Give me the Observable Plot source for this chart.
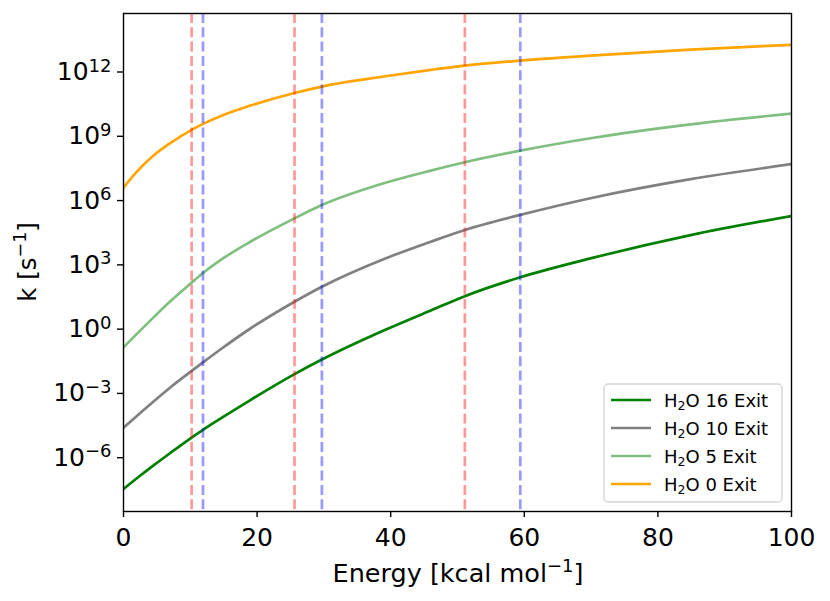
<!DOCTYPE html>
<html><head><meta charset="utf-8">
<script src="https://cdn.jsdelivr.net/npm/d3@7"></script>
<script src="https://cdn.jsdelivr.net/npm/@observablehq/plot@0.6"></script>
<style>body{margin:0;background:#fff}</style>
</head><body><div id="chart"></div>
<script>
// ---- data ----
const energy     = [0, 2, 4.5, 7, 10.2, 11.9, 14.5, 19, 25.6, 29.7, 39.2, 46, 51.1, 59.4, 69.9, 84.9, 100];
// log10(k) values for each exit channel
const logK_h2o16 = [-7.46, -6.96, -6.36, -5.78, -5.06, -4.70, -4.18, -3.31, -2.10, -1.42, -0.03, 0.87, 1.54, 2.42, 3.30, 4.39, 5.28];
const logK_h2o10 = [-4.6, -4.05, -3.375, -2.72, -1.95, -1.55, -0.95, 0.03, 1.28, 1.98, 3.30, 4.08, 4.63, 5.33, 6.11, 7.0, 7.70];
const logK_h2o5  = [-0.85, -0.22, 0.55, 1.3, 2.17, 2.62, 3.22, 4.08, 5.17, 5.79, 6.83, 7.40, 7.79, 8.33, 8.91, 9.56, 10.06];
const logK_h2o0  = [6.6, 7.35, 8.1, 8.68, 9.30, 9.58, 9.94, 10.43, 11.02, 11.32, 11.80, 12.10, 12.30, 12.53, 12.76, 13.04, 13.27];
const seriesNumbers = ["16", "10", "5", "0"];
const redLines  = [10.2, 25.6, 51.1];
const blueLines = [11.9, 29.7, 59.4];
const xTicks = [0, 20, 40, 60, 80, 100];
const yTickExponents = [-6, -3, 0, 3, 6, 9, 12];

// ---- styles ----
const seriesStyle = [
  {stroke: "green", opacity: 1},
  {stroke: "gray", opacity: 1},
  {stroke: "green", opacity: 0.5},
  {stroke: "orange", opacity: 1}
];
const seriesLogK = [logK_h2o16, logK_h2o10, logK_h2o5, logK_h2o0];

const mk = (arr) => energy.map((e, i) => ({e, k: Math.pow(10, arr[i])}));
const sup = e => (e < 0 ? "\u2212" + Math.abs(e) : String(e));

const lineMarks = seriesLogK.map((arr, i) =>
  Plot.line(mk(arr), {x: "e", y: "k", stroke: seriesStyle[i].stroke, strokeOpacity: seriesStyle[i].opacity,
    strokeWidth: 2.7, curve: "monotone-x", clip: true}));

const plot = Plot.plot({
  width: 830, height: 601,
  marginLeft: 123, marginRight: 39, marginTop: 13, marginBottom: 90,
  style: {fontFamily: "DejaVu Sans", fontSize: "25px", background: "white", color: "black", overflow: "visible"},
  x: {domain: [0, 100]},
  y: {type: "log", domain: [Math.pow(10, -8.51), Math.pow(10, 14.73)]},
  marks: [
    ...lineMarks,
    Plot.ruleX(redLines, {stroke: "red", strokeOpacity: 0.4, strokeWidth: 2.7, strokeDasharray: "10,4.3"}),
    Plot.ruleX(blueLines, {stroke: "blue", strokeOpacity: 0.4, strokeWidth: 2.7, strokeDasharray: "10,4.3"}),
    Plot.frame({stroke: "black", strokeWidth: 1.4}),
    Plot.axisX({ticks: xTicks, tickSize: 6, tickPadding: 11, strokeWidth: 1.4, label: null, tickFormat: d => String(d)}),
    Plot.axisY({ticks: yTickExponents.map(e => Math.pow(10, e)), tickSize: 6, tickPadding: 6, strokeWidth: 1.4, label: null,
      tickFormat: d => "10|" + sup(Math.round(Math.log10(d)))})
  ]
});
document.getElementById("chart").appendChild(plot);

const svg = d3.select(plot);
// superscripts on y tick labels
svg.selectAll('g[aria-label="y-axis tick label"] text').each(function() {
  const t = this.textContent;
  if (!t.includes("|")) return;
  const [b, e] = t.split("|");
  const el = d3.select(this);
  el.text("");
  el.append("tspan").text(b);
  el.append("tspan").attr("font-size", "18px").attr("dy", "-8.5").text(e);
});

// axis labels
const xl = svg.append("text").attr("x", 458).attr("y", 582).attr("text-anchor", "middle")
  .attr("font-size", "25.5px").attr("font-family", "DejaVu Sans");
xl.append("tspan").text("Energy [kcal mol");
xl.append("tspan").attr("font-size", "18px").attr("dy", "-10").text("\u22121");
xl.append("tspan").attr("dy", "10").text("]");

const yl = svg.append("text").attr("transform", "translate(35.5,262) rotate(-90)").attr("text-anchor", "middle")
  .attr("font-size", "24.5px").attr("font-family", "DejaVu Sans");
yl.append("tspan").text("k [s");
yl.append("tspan").attr("font-size", "17.5px").attr("dy", "-10").text("\u22121");
yl.append("tspan").attr("dy", "10").text("]");

// legend
const lg = svg.append("g").attr("font-family", "DejaVu Sans").attr("font-size", "18px").attr("text-anchor", "start");
lg.append("rect").attr("x", 604).attr("y", 384).attr("width", 178).attr("height", 118)
  .attr("rx", 4).attr("fill", "white").attr("fill-opacity", 0.8).attr("stroke", "#d6d6d6").attr("stroke-width", 1.4);
seriesNumbers.forEach((n, i) => {
  const y = 400 + i * 28;
  lg.append("line").attr("x1", 611).attr("x2", 651).attr("y1", y).attr("y2", y)
    .attr("stroke", seriesStyle[i].stroke).attr("stroke-opacity", seriesStyle[i].opacity).attr("stroke-width", 2.7);
  const t = lg.append("text").attr("x", 664).attr("y", y + 6.5).attr("text-anchor", "start");
  t.append("tspan").text("H");
  t.append("tspan").attr("font-size", "12.5px").attr("dy", "3").text("2");
  t.append("tspan").attr("dy", "-3").text("O " + n + " Exit");
});
</script>
</body></html>
